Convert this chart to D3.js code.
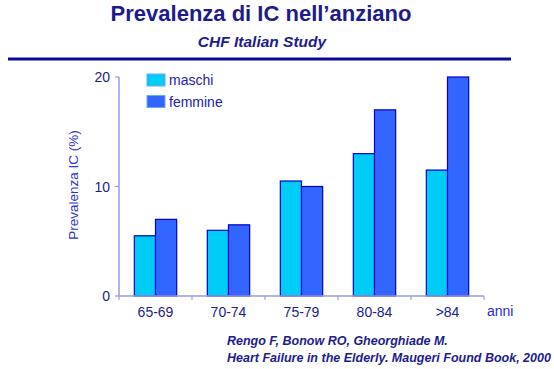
<!DOCTYPE html>
<html><head><meta charset="utf-8">
<script src="https://cdn.jsdelivr.net/npm/d3@7"></script>
<style>body{margin:0;background:#fff}svg{display:block}</style>
</head><body>
<script>
const categories = ["65-69","70-74","75-79","80-84",">84"];
const maschi = [5.5, 6.0, 10.5, 13.0, 11.5];
const femmine = [7.0, 6.5, 10.0, 17.0, 20.0];
const seriesNames = ["maschi","femmine"];
const yTicks = [0, 10, 20];

const W = 554, H = 369;
const svg = d3.select("body").append("svg").attr("width", W).attr("height", H);
const navy = "#1c1c8c";
const font = "Liberation Sans, Arial, sans-serif";

svg.append("text").attr("x", 261).attr("y", 21).attr("text-anchor","middle")
  .attr("font-family",font).attr("font-weight","bold")
  .attr("font-size", 22).attr("fill", navy).text("Prevalenza di IC nell\u2019anziano");
svg.append("text").attr("x", 262).attr("y", 47).attr("text-anchor","middle")
  .attr("font-family",font).attr("font-weight","bold")
  .attr("font-style","italic").attr("font-size", 15.5).attr("fill", navy).text("CHF Italian Study");
svg.append("rect").attr("x", 8).attr("y", 57.5).attr("width", 503).attr("height", 3).attr("fill", "#0a0a9a");

const x0 = d3.scaleBand().domain(categories).range([119, 484]).paddingInner(0.42).paddingOuter(0.21);
const x1 = d3.scaleBand().domain(seriesNames).range([0, x0.bandwidth()]);
const y = d3.scaleLinear().domain([0, 20]).range([296, 77]);
const color = d3.scaleOrdinal().domain(seriesNames).range(["#00ccf8", "#3366ff"]);
const data = { maschi, femmine };

// bars
const g = svg.append("g");
categories.forEach((c, i) => {
  seriesNames.forEach(s => {
    g.append("rect")
      .attr("x", x0(c) + x1(s)).attr("y", y(data[s][i]))
      .attr("width", x1.bandwidth()).attr("height", y(0) - y(data[s][i]))
      .attr("fill", color(s)).attr("stroke", "#0000cc").attr("stroke-width", 1.2);
  });
});

// axes
const axisColor = "#9a9ae8";
const xAxisScale = d3.scaleLinear().domain([0, 5]).range([119, 484]);
svg.append("line").attr("x1", 119).attr("x2", 484).attr("y1", y(0)).attr("y2", y(0)).attr("stroke", axisColor).attr("stroke-width", 1.5);
svg.append("line").attr("x1", 119).attr("x2", 119).attr("y1", y(0)).attr("y2", y(20)).attr("stroke", axisColor).attr("stroke-width", 1.5);
d3.range(0, 6).forEach(k => {
  svg.append("line").attr("x1", xAxisScale(k)).attr("x2", xAxisScale(k)).attr("y1", y(0)).attr("y2", y(0) + 4).attr("stroke", axisColor).attr("stroke-width", 1.2);
});
yTicks.forEach(t => {
  svg.append("line").attr("x1", 115).attr("x2", 119).attr("y1", y(t)).attr("y2", y(t)).attr("stroke", axisColor).attr("stroke-width", 1.2);
  svg.append("text").attr("x", 110).attr("y", y(t) + 5).attr("text-anchor", "end")
    .attr("font-family",font).attr("font-size", 14).attr("fill", navy).text(t);
});
categories.forEach(c => {
  svg.append("text").attr("x", x0(c) + x0.bandwidth()/2).attr("y", 316.5).attr("text-anchor","middle")
    .attr("font-family",font).attr("font-size", 14).attr("fill", navy).text(c);
});
svg.append("text").attr("x", 487).attr("y", 315.5)
  .attr("font-family",font).attr("font-size", 14).attr("fill", "#2a2ad0").text("anni");

svg.append("text").attr("transform", "translate(78,185) rotate(-90)").attr("text-anchor","middle")
  .attr("font-family",font).attr("font-size", 13.5).attr("fill", "#3030d0").text("Prevalenza IC (%)");

// legend
seriesNames.forEach((s, i) => {
  svg.append("rect").attr("x", 147).attr("y", 74 + i*21.5).attr("width", 18).attr("height", 12)
    .attr("fill", color(s)).attr("stroke", "#66aaff").attr("stroke-width", 1);
  svg.append("text").attr("x", 169).attr("y", 85 + i*21.5)
    .attr("font-family",font).attr("font-size", 14).attr("fill", "#2020b0").text(s);
});

// citation
["Rengo F, Bonow RO, Gheorghiade M.", "Heart Failure in the Elderly. Maugeri Found Book, 2000"].forEach((t, i) => {
  svg.append("text").attr("x", 227).attr("y", 345 + i*16.5)
    .attr("font-family",font).attr("font-weight","bold").attr("font-style","italic")
    .attr("font-size", 12.5).attr("fill", navy).text(t);
});
</script>
</body></html>
